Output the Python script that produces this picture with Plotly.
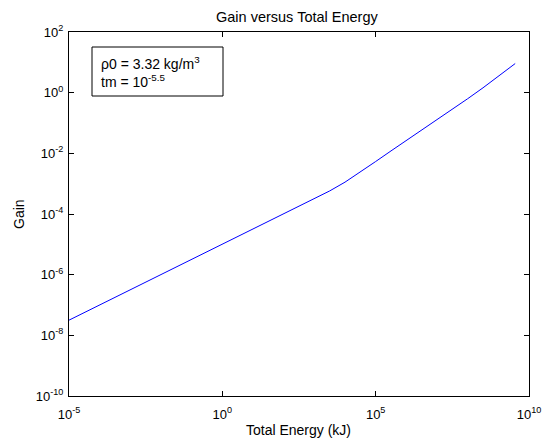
import plotly.graph_objects as go

# Data (log-log)
total_energy_kj = [1e-5, 1e-4, 1e-3, 1e-2, 1e-1, 1e0, 1e1, 1e2, 1e3, 10**3.5, 1e4, 10**4.5,
                   1e5, 10**5.5, 1e6, 10**6.5, 1e7, 10**7.5, 1e8, 10**8.5, 1e9, 10**9.55]
gain = [10**-7.5, 10**-7.0, 10**-6.5, 10**-6.0, 10**-5.5, 10**-5.0, 10**-4.5, 10**-4.0,
        10**-3.5, 10**-3.24, 10**-2.95, 10**-2.62, 10**-2.27, 10**-1.92, 10**-1.58,
        10**-1.24, 10**-0.9, 10**-0.56, 10**-0.2, 10**0.16, 10**0.54, 10**0.96]

x_tick_vals = [1e-5, 1e0, 1e5, 1e10]
x_tick_text = ["10<sup>-5</sup>", "10<sup>0</sup>", "10<sup>5</sup>", "10<sup>10</sup>"]
y_tick_vals = [1e-10, 1e-8, 1e-6, 1e-4, 1e-2, 1e0, 1e2]
y_tick_text = ["10<sup>-10</sup>", "10<sup>-8</sup>", "10<sup>-6</sup>", "10<sup>-4</sup>",
               "10<sup>-2</sup>", "10<sup>0</sup>", "10<sup>2</sup>"]

font_family = "Liberation Sans, Arial, sans-serif"

L, R, T, B = 69, 13, 32, 44
W, H = 542, 440
PW, PH = W - L - R, H - T - B

fig = go.Figure()
fig.add_trace(go.Scatter(x=total_energy_kj, y=gain, mode="lines",
                         line=dict(color="#0000FF", width=1), showlegend=False))

axis_common = dict(showgrid=False, zeroline=False, showline=True, linecolor="black",
                   linewidth=1, mirror="ticks", ticks="inside", ticklen=5,
                   tickcolor="black", automargin=False,
                   tickfont=dict(size=13, color="black", family=font_family))

fig.update_layout(
    width=W, height=H,
    margin=dict(l=L, r=R, t=T, b=B),
    paper_bgcolor="white", plot_bgcolor="white",
    xaxis=dict(type="log", range=[-5, 10], tickvals=x_tick_vals, ticktext=x_tick_text,
               ticklabelstandoff=6, **axis_common),
    yaxis=dict(type="log", range=[-10, 2], tickvals=y_tick_vals, ticktext=y_tick_text,
               ticklabelstandoff=2, **axis_common),
    shapes=[dict(type="rect", xref="paper", yref="paper",
                 x0=(92 - L) / PW, x1=(223 - L) / PW,
                 y0=(H - B - 96) / PH, y1=(H - B - 47) / PH,
                 line=dict(color="black", width=1), fillcolor="white", layer="above")],
    annotations=[
        dict(xref="paper", yref="paper", x=(99 - L) / PW, y=(H - B - 72) / PH,
             xanchor="left", yanchor="middle", align="left", showarrow=False,
             text="ρ0 = 3.32 kg/m<sup>3</sup><br>tm = 10<sup>-5.5</sup>",
             font=dict(size=14, color="black", family=font_family)),
        dict(xref="paper", yref="paper", x=(297 - L) / PW, y=(H - B - 17) / PH,
             xanchor="center", yanchor="middle", showarrow=False,
             text="Gain versus Total Energy",
             font=dict(size=14.5, color="black", family=font_family)),
        dict(xref="paper", yref="paper", x=(298 - L) / PW, y=(H - B - 430) / PH,
             xanchor="center", yanchor="middle", showarrow=False,
             text="Total Energy (kJ)",
             font=dict(size=14, color="black", family=font_family)),
        dict(xref="paper", yref="paper", x=(19 - L) / PW, y=(H - B - 214) / PH,
             xanchor="center", yanchor="middle", showarrow=False, textangle=-90,
             text="Gain",
             font=dict(size=14, color="black", family=font_family)),
    ],
)

fig.write_html("out.html",
               config={"displayModeBar": False},
               post_script="document.body.style.margin='0';document.body.style.overflow='hidden';")
